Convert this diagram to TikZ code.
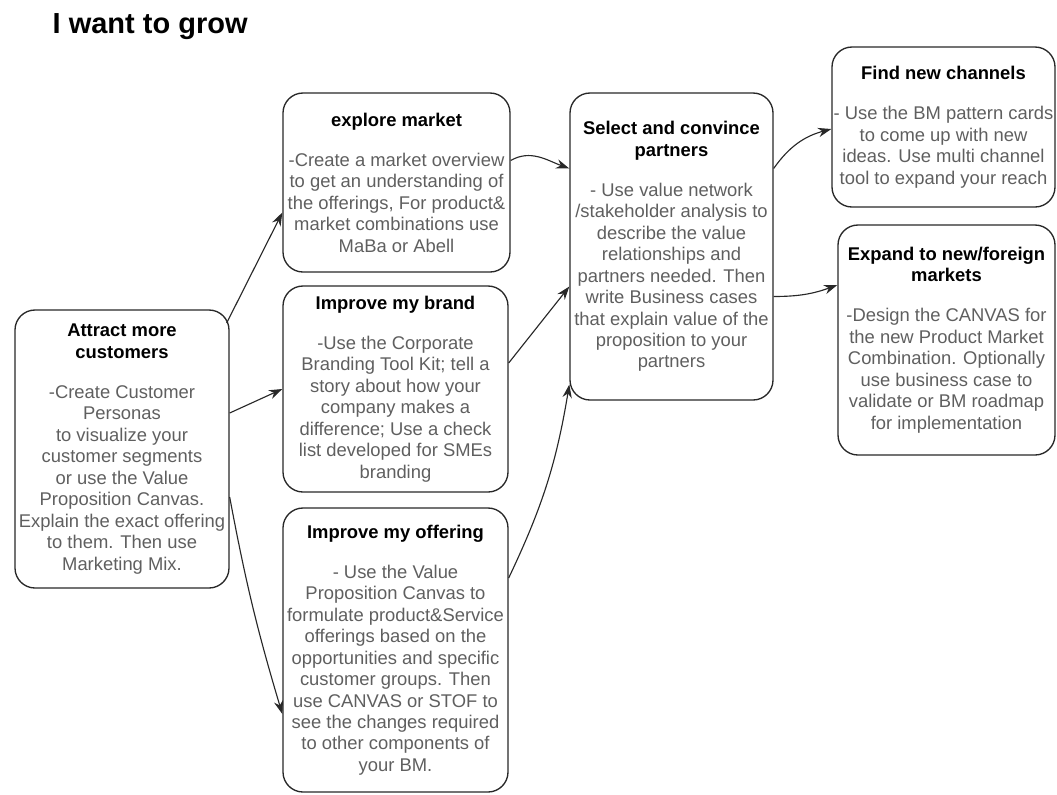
\documentclass[tikz,border=0pt]{standalone}
\usepackage{fontspec}
\setsansfont{Liberation Sans}
\usetikzlibrary{arrows.meta}

\definecolor{bodygray}{RGB}{95,95,95}
\definecolor{edgegray}{RGB}{40,40,40}
\newcommand{\hd}[1]{{\color{black}\bfseries #1}}

\tikzset{
  card/.style={draw=edgegray, line width=1pt, rounded corners=15pt, align=center, inner sep=0pt,
    font=\sffamily\fontsize{13.8}{16.1}\selectfont, text=bodygray},
  flow/.style={-{Stealth[length=10pt,width=7pt]}, line width=0.85pt, draw=edgegray},
}

\begin{document}
\begin{tikzpicture}[x=0.75pt, y=0.75pt]
            \useasboundingbox (0,0) rectangle (1057,-794);
            \node[anchor=base west, font=\sffamily\bfseries\fontsize{21.75}{26}\selectfont] (title) at (48,-33) {I want to grow};

            \node[card, minimum width=160.5pt, minimum height=208.5pt] (attract) at (122,-449) {\hd{Attract more}\\\hd{customers}\\[14pt]-Create Customer\\Personas\\to visualize your\\customer segments\\or use the Value\\Proposition Canvas.\\Explain the exact offering\\to them. Then use\\Marketing Mix.};
            \node[card, minimum width=170.25pt, minimum height=134.25pt] (explore) at (396.5,-182.5) {\hd{explore market}\\[14pt]-Create a market overview\\to get an understanding of\\the offerings, For product\&\\market combinations use\\MaBa or Abell};
            \node[card, minimum width=168.75pt, minimum height=154.5pt] (brand) at (395.5,-389) {\hd{Improve my brand}\\[14pt]-Use the Corporate\\Branding Tool Kit; tell a\\story about how your\\company makes a\\difference; Use a check\\list developed for SMEs\\branding};
            \node[card, minimum width=168.75pt, minimum height=213pt] (offering) at (395.5,-650) {\hd{Improve my offering}\\[14pt]- Use the Value\\Proposition Canvas to\\formulate product\&Service\\offerings based on the\\opportunities and specific\\customer groups. Then\\use CANVAS or STOF to\\see the changes required\\to other components of\\your BM.};
            \node[card, minimum width=152.25pt, minimum height=230.25pt] (select) at (671.5,-246.5) {\hd{Select and convince}\\\hd{partners}\\[14pt]- Use value network\\/stakeholder analysis to\\describe the value\\relationships and\\partners needed. Then\\write Business cases\\that explain value of the\\proposition to your\\partners};
            \node[card, minimum width=167.25pt, minimum height=120pt] (find) at (943.5,-127) {\hd{Find new channels}\\[14pt]- Use the BM pattern cards\\to come up with new\\ideas. Use multi channel\\tool to expand your reach};
            \node[card, minimum width=162.75pt, minimum height=172.5pt] (expand) at (946.5,-340) {\hd{Expand to new/foreign}\\\hd{markets}\\[14pt]-Design the CANVAS for\\the new Product Market\\Combination. Optionally\\use business case to\\validate or BM roadmap\\for implementation};

            \draw[flow] ([shift={(-3,126)}]attract.east) -- ([shift={(0,-30)}]explore.west);
            \draw[flow] ([shift={(0,36)}]attract.east) -- (brand.west);
            \draw[flow] ([shift={(0,-48)}]attract.east) to[bend right=3] ([shift={(0,-64)}]offering.west);
            \draw[flow] ([shift={(0,22)}]explore.east) to[out=30, in=160] ([shift={(0,78)}]select.west);
            \draw[flow] ([shift={(0,26)}]brand.east) -- ([shift={(0,-40)}]select.west);
            \draw[flow] ([shift={(0,72)}]offering.east) to[bend right=8] ([shift={(0,-138)}]select.west);
            \draw[flow] ([shift={(0,78)}]select.east) to[out=55, in=195] ([shift={(0,-2)}]find.west);
            \draw[flow] ([shift={(0,-50)}]select.east) to[out=0, in=200] ([shift={(0,55)}]expand.west);

        \end{tikzpicture}
\end{document}
